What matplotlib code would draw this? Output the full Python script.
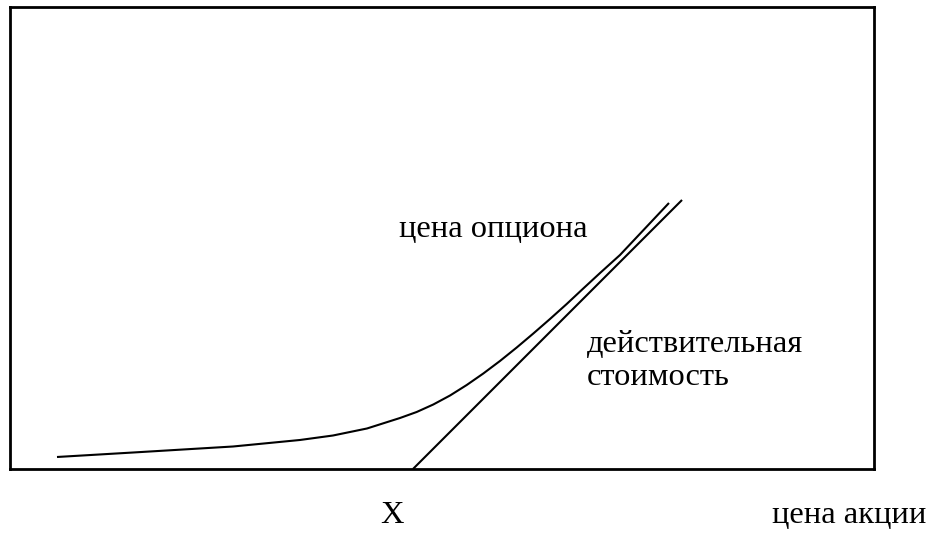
import numpy as np
import matplotlib
matplotlib.use("Agg")
from matplotlib import pyplot as plt

plt.rcParams['font.family'] = ['Liberation Serif', 'DejaVu Serif']

# option price curve (stock price vs option price)
stock_price = np.array([5.44, 14.24, 25.81, 33.56, 37.38, 41.32, 45.14, 47.07,
                        48.99, 50.93, 52.86, 54.78, 56.71, 58.65, 60.57, 62.50,
                        64.43, 66.35, 68.29, 70.60, 76.27])
option_price = np.array([2.60, 3.57, 4.87, 6.28, 7.25, 8.77, 11.04, 12.34,
                         13.96, 15.91, 18.18, 20.67, 23.38, 26.30, 29.33, 32.47,
                         35.71, 39.07, 42.42, 46.32, 57.58])

# intrinsic value line, starts at the strike X
intrinsic_x = np.array([46.64, 77.78])
intrinsic_y = np.array([0.0, 58.23])

fig = plt.figure(figsize=(9.27, 5.39), dpi=100)
ax = fig.add_axes([10 / 927, 70 / 539, 864 / 927, 462 / 539])

ax.plot(stock_price, option_price, color="black", lw=1.5,
        solid_joinstyle="round", solid_capstyle="butt")
ax.plot(intrinsic_x, intrinsic_y, color="black", lw=1.5, solid_capstyle="butt")

ax.set_xlim(0, 100)
ax.set_ylim(0, 100)
ax.set_xticks([])
ax.set_yticks([])
for s in ax.spines.values():
    s.set_linewidth(2.0)

fs = 23.4
ax.text(45.0, 50.2, "цена опциона", fontsize=fs, va="baseline", ha="left")
ax.text(66.8, 25.3, "действительная", fontsize=fs, va="baseline", ha="left")
ax.text(66.8, 18.2, "стоимость", fontsize=fs, va="baseline", ha="left")
ax.text(42.8, -11.7, "X", fontsize=fs, va="baseline", ha="left", clip_on=False)
ax.text(106.1, -11.7, "цена акции", fontsize=fs, va="baseline", ha="right",
        clip_on=False)

fig.savefig("out.png", dpi=100)
